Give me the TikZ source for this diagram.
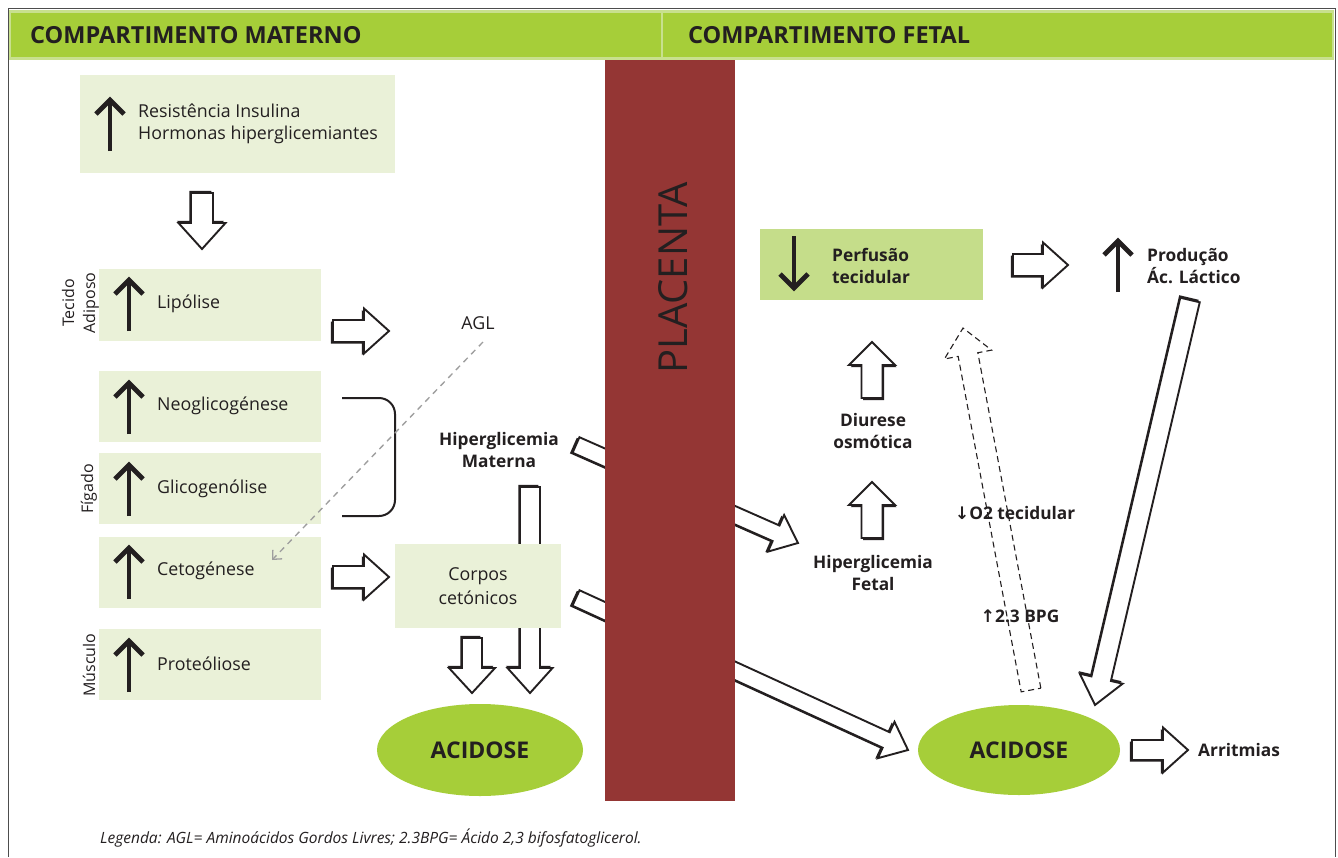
\documentclass[tikz,border=0pt]{standalone}
\usepackage{fontspec}
\setmainfont{Open Sans}
\newfontfamily\symf{DejaVu Sans}
\usetikzlibrary{calc,arrows.meta,shapes.geometric}
\definecolor{hdr}{HTML}{A6CE39}
\definecolor{hdrb}{HTML}{C8E08E}
\definecolor{boxl}{HTML}{EAF1D8}
\definecolor{boxd}{HTML}{C5DD8A}
\definecolor{placc}{HTML}{943634}
\definecolor{ink}{HTML}{231F20}
\definecolor{framec}{HTML}{4D4D4D}
\tikzset{
 lbox/.style={fill=boxl, draw=none, inner sep=0pt},
 txt/.style={text=ink, font=\fontsize{17.8}{22}\selectfont, inner sep=0pt, align=left},
 btxt/.style={text=ink, font=\bfseries\fontsize{17.3}{22.5}\selectfont, inner sep=0pt, align=center},
 rtxt/.style={text=ink, font=\fontsize{16}{18}\selectfont, inner sep=0pt, rotate=90},
 hdrtxt/.style={text=ink, font=\bfseries\fontsize{23.5}{25}\selectfont, inner sep=0pt, anchor=west},
 acid/.style={ellipse, fill=hdr, draw=none, inner sep=0pt, text=ink, font=\bfseries\fontsize{23}{25}\selectfont},
 barr/.style={draw=ink, fill=white, line width=1.9pt, line join=miter},
 shad/.style={fill=ink},
 dasharr/.style={draw=ink, fill=none, line width=1.1pt, dash pattern=on 6pt off 4pt},
}
\newcommand\barrowpath[3]{(0pt,-#1) -- ({\n2-#3},-#1) -- ({\n2-#3},-#2) -- ({\n2+0pt},0pt) -- ({\n2-#3},#2) -- ({\n2-#3},#1) -- (0pt,#1) -- cycle}
\newcommand\plainbarrow[6][]{%
 \path[barr,#1] let \p1=(#2),\p2=(#3),\n1={atan2(\y2-\y1,\x2-\x1)},\n2={veclen(\x2-\x1,\y2-\y1)} in
   [shift={(\p1)},rotate=\n1] \barrowpath{#4}{#5}{#6};}
\newcommand\blockarrow[5]{%
 \path[shad] let \p1=(#1),\p2=(#2),\n1={atan2(\y2-\y1,\x2-\x1)},\n2={veclen(\x2-\x1,\y2-\y1)} in
   [shift={(\p1)},rotate=\n1,xshift=-2.2pt,yshift=-1.6pt] \barrowpath{#3}{#4}{#5};
 \plainbarrow{#1}{#2}{#3}{#4}{#5}}
\newcommand\uparr[3]{%
 \draw[ink,line width=4.8pt] (#1,#3) -- (#1,#2+3);
 \draw[ink,line width=4.8pt,line join=miter,miter limit=10] (#1-14,#2+17) -- (#1,#2+3) -- (#1+14,#2+17);}
\newcommand\downarr[3]{%
 \draw[ink,line width=4.8pt] (#1,#3) -- (#1,#2-3);
 \draw[ink,line width=4.8pt,line join=miter,miter limit=10] (#1-14,#2-17) -- (#1,#2-3) -- (#1+14,#2-17);}
\begin{document}
\begin{tikzpicture}[x=1pt,y=-1pt]
\useasboundingbox (0,0) rectangle (1338,857);
\fill[white] (0,0) rectangle (1338,857);
% frame and header
\draw[framec,line width=1pt] (8,857) -- (8,8) -- (1335,8) -- (1335,857);
\node[fill=hdr, draw=hdrb, line width=2.5pt, minimum width=1323pt, minimum height=47pt, inner sep=0pt] (hdrband) at (671.5,35) {};
\draw[hdrb,line width=2pt] (hdrband.north) ++(-9.5,0) coordinate (dvt) -- (dvt |- hdrband.south);
\node[hdrtxt] (hm) at (30,35) {COMPARTIMENTO MATERNO};
\node[hdrtxt] (hf) at (688,35) {COMPARTIMENTO FETAL};

% maternal boxes
\node[lbox, minimum width=315pt, minimum height=98pt] (res) at (237.5,124) {};
\node[lbox, minimum width=222pt, minimum height=72pt] (lip) at (210,305) {};
\node[lbox, minimum width=222pt, minimum height=71pt] (neo) at (210,406.5) {};
\node[lbox, minimum width=222pt, minimum height=71pt] (gli) at (210,488.5) {};
\node[lbox, minimum width=222pt, minimum height=71pt] (ceto) at (210,572) {};
\node[lbox, minimum width=222pt, minimum height=71pt] (prot) at (210,664.5) {};

\uparr{110}{97}{151}
\uparr{129}{277}{331}
\uparr{129}{380}{434}
\uparr{129}{462}{516}
\uparr{129}{545}{599}
\uparr{129}{638}{692}

\node[txt, anchor=west] (rest) at (138,124) {Resistência Insulina\\Hormonas hiperglicemiantes};
\node[txt, anchor=west] (lipt) at (157,304) {Lipólise};
\node[txt, anchor=west] (neot) at (157,406) {Neoglicogénese};
\node[txt, anchor=west] (glit) at (157,489) {Glicogenólise};
\node[txt, anchor=west] (cetot) at (157,571) {Cetogénese};
\node[txt, anchor=west] (prott) at (157,664) {Proteóliose};

\node[rtxt] (tec) at (68,303) {Tecido};
\node[rtxt] (adi) at (91,303) {Adiposo};
\node[rtxt] (fig) at (89,489) {Fígado};
\node[rtxt] (mus) at (89,665) {Músculo};

% bracket
\draw[ink,line width=2pt,rounded corners=16pt] (342,398) -- (395,398) -- (395,516) -- (342,516);

\node[txt] (agl) at (478,323) {AGL};
\node[btxt] (hmat) at (499,450) {Hiperglicemia\\Materna};

% block arrows (maternal)
\coordinate (a1s) at (202,193); \coordinate (a1e) at (202,249);
\blockarrow{a1s}{a1e}{11pt}{23.5pt}{26pt}
\coordinate (a2s) at (333,331); \coordinate (a2e) at (389,331);
\blockarrow{a2s}{a2e}{11pt}{22.5pt}{25pt}
\coordinate (a3s) at (333,577); \coordinate (a3e) at (389,577);
\blockarrow{a3s}{a3e}{11pt}{22.5pt}{25pt}
\coordinate (a4s) at (530,487); \coordinate (a4e) at (530,693);
\blockarrow{a4s}{a4e}{10pt}{22.5pt}{25pt}
\coordinate (a5s) at (472,638); \coordinate (a5e) at (472,693);
\blockarrow{a5s}{a5e}{10pt}{23pt}{25pt}
\coordinate (d1s) at (576,445); \coordinate (d1e) at (798,543);
\blockarrow{d1s}{d1e}{8.5pt}{20pt}{24pt}
\coordinate (d2s) at (576,598); \coordinate (d2e) at (908,750);
\blockarrow{d2s}{d2e}{8.5pt}{20pt}{24pt}

\node[lbox, minimum width=166pt, minimum height=84pt] (corp) at (478,586) {};
\node[txt, align=center, font=\fontsize{17.8}{24}\selectfont] (corpt) at (478,586) {Corpos\\cetónicos};

% dashed AGL line
\coordinate (agls) at (483,342); \coordinate (agle) at (272,560);
\draw[black!38,line width=1.3pt,dash pattern=on 6pt off 5pt,-{Straight Barb[length=7pt,width=13pt]}] (agls) -- (agle);

\node[acid, minimum width=206pt, minimum height=92pt] (accL) at (480,750) {ACIDOSE};

% placenta
\node[fill=placc, minimum width=130pt, minimum height=741pt, inner sep=0pt] (plac) at (670,430.5) {};
\node[rotate=90, text=ink, font=\fontsize{40}{40}\selectfont, inner sep=0pt] (plact) at (673,278) {PLACENTA};

% fetal side
\node[fill=boxd, minimum width=223pt, minimum height=71pt, inner sep=0pt] (perf) at (871.5,264.5) {};
\downarr{794}{291}{236}
\node[btxt, anchor=west, align=left] (perft) at (832,266) {Perfusão\\tecidular};
\uparr{1118}{238}{292}
\node[btxt, anchor=west, align=left] (prod) at (1147,266) {Produção\\Ác. Láctico};
\coordinate (f1s) at (1013,265); \coordinate (f1e) at (1068,265);
\blockarrow{f1s}{f1e}{11pt}{22.5pt}{25pt}

\node[btxt] (diu) at (873,431) {Diurese\\osmótica};
\node[btxt] (hfet) at (873,573) {Hiperglicemia\\Fetal};
\coordinate (u1s) at (872,538); \coordinate (u1e) at (872,482);
\blockarrow{u1s}{u1e}{10.5pt}{23pt}{23pt}
\coordinate (u2s) at (872,398); \coordinate (u2e) at (872,342);
\blockarrow{u2s}{u2e}{10.5pt}{23pt}{23pt}

\coordinate (dss) at (1031,690); \coordinate (dse) at (963,328);
\plainbarrow[dasharr]{dss}{dse}{10pt}{24pt}{27pt}
\node[btxt] (o2) at (1015,513) {{\symf ↓}O2 tecidular};
\node[btxt] (bpg) at (1020,616) {{\symf ↑}2.3 BPG};

\coordinate (las) at (1190,300); \coordinate (lae) at (1095,705);
\blockarrow{las}{lae}{10pt}{22pt}{27pt}

\node[acid, minimum width=202pt, minimum height=90pt] (accR) at (1019,750) {ACIDOSE};
\coordinate (r1s) at (1132,750); \coordinate (r1e) at (1188,750);
\blockarrow{r1s}{r1e}{10pt}{22.5pt}{25pt}
\node[btxt, anchor=west] (arr) at (1198,750) {Arritmias};

\node[anchor=west, inner sep=0pt, text=ink, font=\itshape\fontsize{15.5}{17}\selectfont] (leg) at (100,838) {Legenda: AGL= Aminoácidos Gordos Livres; 2.3BPG= Ácido 2,3 bifosfatoglicerol.};
\end{tikzpicture}
\end{document}
